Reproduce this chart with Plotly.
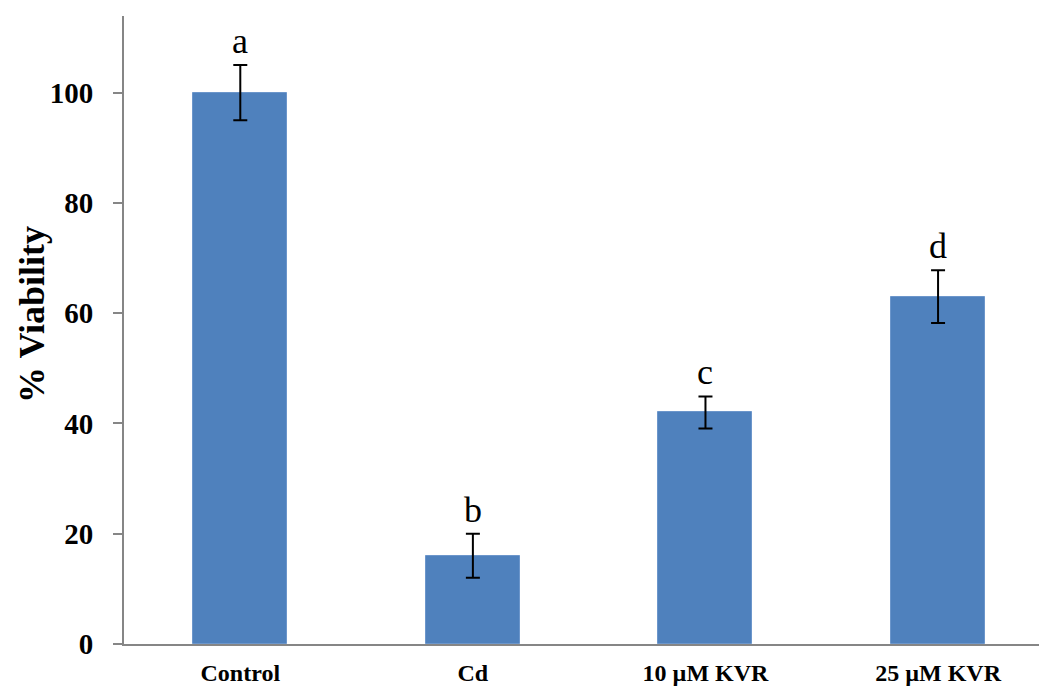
import plotly.graph_objects as go

# Cell viability by treatment group
groups = ["Control", "Cd", "10 \u00b5M KVR", "25 \u00b5M KVR"]
viability = [100, 16, 42, 63]
sd = [5, 4, 2.9, 4.8]
letters = ["a", "b", "c", "d"]
y_ticks = [0, 20, 40, 60, 80, 100]

BAR = "#4F81BD"
AXIS = "#868686"
SERIF = "Liberation Serif, Times New Roman, serif"

fig = go.Figure()
fig.add_trace(go.Bar(
    x=list(range(len(groups))),
    y=viability,
    width=0.404,
    marker=dict(color=BAR, line=dict(color="#6C96CB", width=1)),
    error_y=dict(type="data", array=sd, visible=True,
                 color="black", thickness=2, width=7),
    showlegend=False,
))

# significance letters above each error bar
for i, (v, e, t) in enumerate(zip(viability, sd, letters)):
    fig.add_annotation(
        x=i, y=v + e, xref="x", yref="y", text=t, showarrow=False,
        yanchor="bottom", yshift=2,
        font=dict(family=SERIF, size=36, color="black"),
    )

# y-axis title
fig.add_annotation(
    x=-0.1005, y=0.524, xref="paper", yref="paper", text="<b>% Viability</b>",
    showarrow=False, textangle=-90, xanchor="center", yanchor="middle",
    font=dict(family=SERIF, size=36, color="black"),
)

fig.update_layout(
    width=1039, height=688,
    margin=dict(l=124, r=0, t=16, b=43.5, pad=0),
    paper_bgcolor="white", plot_bgcolor="white",
    bargap=0,
)
fig.update_xaxes(
    range=[-0.5, 3.434],
    tickmode="array", tickvals=list(range(len(groups))),
    ticktext=[f"<b>{g}</b>" for g in groups],
    tickfont=dict(family=SERIF, size=24, color="black"),
    showline=True, linecolor=AXIS, linewidth=2,
    ticks="", showgrid=False, zeroline=False,
    ticklabelstandoff=6, automargin=False,
)
fig.update_yaxes(
    range=[0, 113.9],
    tickmode="array", tickvals=y_ticks,
    ticktext=[f"<b>{v}</b>" for v in y_ticks],
    tickfont=dict(family=SERIF, size=29, color="black"),
    showline=True, linecolor=AXIS, linewidth=2,
    ticks="outside", ticklen=9, tickwidth=2, tickcolor=AXIS,
    showgrid=False, zeroline=False,
    ticklabelstandoff=14, automargin=False,
)

fig.write_html("out.html")
